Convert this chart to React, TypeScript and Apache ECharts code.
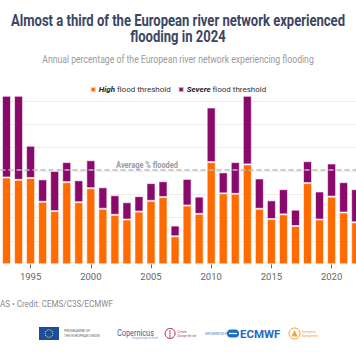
import React, { useEffect, useRef } from "react";
import * as echarts from "echarts";

const years = [
  "1993", "1994", "1995", "1996", "1997", "1998", "1999", "2000", "2001", "2002",
  "2003", "2004", "2005", "2006", "2007", "2008", "2009", "2010", "2011", "2012",
  "2013", "2014", "2015", "2016", "2017", "2018", "2019", "2020", "2021", "2022",
];
const highValues = [
  18.6, 18.1, 18.5, 13.4, 11.4, 17.6, 13.3, 16.3, 11.9, 10.6,
  9.6, 11.3, 13.6, 14.4, 6.0, 12.6, 10.8, 21.9, 15.2, 15.1,
  21.4, 11.9, 9.7, 10.7, 8.2, 17.4, 9.6, 14.5, 11.1, 9.0,
];
const severeValues = [
  17.6, 18.1, 6.9, 4.8, 8.6, 4.3, 4.7, 6.0, 4.6, 4.2,
  3.7, 3.3, 3.8, 3.4, 2.3, 5.7, 3.7, 11.7, 4.5, 6.8,
  14.8, 6.5, 4.0, 5.4, 3.5, 4.7, 6.0, 7.1, 6.5, 7.1,
];
const averageFlooded = 20.2;
const yMax = 36;
const yInterval = 5;

const ORANGE = "#ff6b00";
const PURPLE = "#8a0a6c";
const FONT = "Roboto, 'Noto Sans', sans-serif";

function fitScale(text: string, font: string, target: number): number {
  const ctx = document.createElement("canvas").getContext("2d");
  if (!ctx) return 1;
  ctx.font = font;
  const w = ctx.measureText(text).width;
  return w > 0 ? target / w : 1;
}

export default function App() {
  const ref = useRef<HTMLDivElement>(null);

  useEffect(() => {
    if (!ref.current) return;
    const chart = echarts.init(ref.current, null, { renderer: "svg" });

    const title1 = "Almost a third of the European river network experienced";
    const title2 = "flooding in 2024";
    const subtitle = "Annual percentage of the European river network experiencing flooding";
    const credit = "AS • Credit: CEMS/C3S/ECMWF";
    const avgLabel = "Average % flooded";

    const tScale = fitScale(title1, `bold 16px Roboto`, 334);
    const sScale = fitScale(subtitle, `10.5px Roboto`, 272);
    const cScale = fitScale(credit, `9.5px Roboto`, 113);
    const aScale = fitScale(avgLabel, `bold 9px Roboto`, 62);
    const copScale = fitScale("Copernicus", `9px Roboto`, 37);

    const stars = Array.from({ length: 12 }, (_, i) => {
      const a = (i / 12) * Math.PI * 2;
      return {
        type: "circle",
        shape: { cx: 49 + 3.8 * Math.cos(a), cy: 333.5 + 3.8 * Math.sin(a), r: 0.55 },
        style: { fill: "#ffdd00" },
      };
    });

    const tiny = (text: string, x: number, y: number, color: string, size = 3.2) => ({
      type: "text",
      x,
      y,
      style: { text, fill: color, fontSize: size, fontFamily: FONT, verticalAlign: "middle" },
    });

    chart.setOption({
      animation: false,
      backgroundColor: "#ffffff",
      legend: {
        top: 80.5,
        left: "center",
        icon: "rect",
        itemWidth: 5,
        itemHeight: 5,
        itemGap: 7,
        selectedMode: false,
        textStyle: {
          fontSize: 8,
          color: "#333",
          fontFamily: FONT,
          padding: [0, 0, 0, -2],
          rich: {
            b: {
              fontSize: 8,
              fontWeight: "bold",
              fontStyle: "italic",
              color: "#222",
              fontFamily: FONT,
            },
          },
        },
        formatter: (name: string) =>
          name.startsWith("High") ? "{b|High} flood threshold" : "{b|Severe} flood threshold",
        data: ["High flood threshold", "Severe flood threshold"],
      },
      grid: {
        left: 0.5,
        width: 361.2,
        top: 96.3,
        height: 168,
        containLabel: false,
        outerBoundsMode: "none",
      },
      xAxis: {
        type: "category",
        data: years,
        axisLine: { show: false },
        axisTick: {
          show: true,
          alignWithLabel: true,
          length: 4,
          interval: (_i: number, v: string) => +v % 5 === 0,
          lineStyle: { color: "#666", width: 1 },
        },
        axisLabel: {
          interval: (_i: number, v: string) => +v % 5 === 0,
          color: "#666",
          fontSize: 9.5,
          margin: 7,
          fontFamily: FONT,
        },
      },
      yAxis: {
        type: "value",
        min: 0,
        max: yMax,
        interval: yInterval,
        axisLabel: { show: false },
        axisLine: { show: false },
        axisTick: { show: false },
        splitLine: {
          show: true,
          showMinLine: false,
          showMaxLine: false,
          lineStyle: { color: "#ececec", width: 1 },
        },
      },
      series: [
        {
          name: "High flood threshold",
          type: "bar",
          stack: "flood",
          data: highValues,
          barWidth: 9,
          itemStyle: { color: ORANGE, borderColor: "rgba(255,255,255,0.6)", borderWidth: 1 },
        },
        {
          name: "Severe flood threshold",
          type: "bar",
          stack: "flood",
          data: severeValues,
          barWidth: 9,
          itemStyle: { color: PURPLE, borderColor: "rgba(255,255,255,0.6)", borderWidth: 1 },
          markLine: {
            silent: true,
            symbol: "none",
            z: 10,
            label: { show: false },
            lineStyle: { color: "#bcbcbc", type: [5, 3], width: 1.6 },
            data: [{ yAxis: averageFlooded }],
          },
        },
      ],
      graphic: [
        {
          type: "text",
          x: 178,
          y: 20.5,
          scaleX: tScale,
          style: {
            text: title1,
            fill: "#3a4664",
            fontSize: 16,
            fontWeight: "bold",
            fontFamily: FONT,
            align: "center",
            verticalAlign: "middle",
          },
        },
        {
          type: "text",
          x: 178,
          y: 36.5,
          scaleX: tScale,
          style: {
            text: title2,
            fill: "#3a4664",
            fontSize: 16,
            fontWeight: "bold",
            fontFamily: FONT,
            align: "center",
            verticalAlign: "middle",
          },
        },
        {
          type: "text",
          x: 178,
          y: 59,
          scaleX: sScale,
          style: {
            text: subtitle,
            fill: "#9a9a9a",
            fontSize: 10.5,
            fontFamily: FONT,
            align: "center",
            verticalAlign: "middle",
          },
        },
        {
          type: "text",
          x: 178,
          y: 165,
          scaleX: aScale,
          z: 20,
          style: {
            text: avgLabel,
            fill: "#9c9c9c",
            fontSize: 9,
            fontWeight: "bold",
            fontFamily: FONT,
            align: "right",
            verticalAlign: "middle",
          },
        },
        {
          type: "text",
          x: 0,
          y: 303.5,
          scaleX: cScale,
          style: {
            text: credit,
            fill: "#8a8a8a",
            fontSize: 9.5,
            fontFamily: FONT,
            align: "left",
            verticalAlign: "middle",
          },
        },
        // EU flag
        { type: "rect", shape: { x: 39, y: 327, width: 20, height: 13 }, style: { fill: "#1b4d9e" } },
        ...stars,
        tiny("PROGRAMME OF", 64, 331.2, "#666", 3.4),
        tiny("THE EUROPEAN UNION", 64, 335.6, "#666", 3.4),
        // Copernicus
        {
          type: "text",
          x: 117,
          y: 332.5,
          scaleX: copScale,
          style: {
            text: "Copernicus",
            fill: "#2f63a8",
            fontSize: 9,
            fontFamily: FONT,
            verticalAlign: "middle",
          },
        },
        tiny("Europe's eyes on Earth", 132, 339, "#7b9cc8", 2.6),
        // Climate change service
        {
          type: "arc",
          shape: { cx: 170, cy: 333.5, r: 5, startAngle: -Math.PI * 0.7, endAngle: Math.PI * 1.3 },
          style: { stroke: "#a52a45", lineWidth: 1, fill: "none" },
        },
        {
          type: "line",
          shape: { x1: 170, y1: 330, x2: 170, y2: 338 },
          style: { stroke: "#a52a45", lineWidth: 0.8 },
        },
        tiny("Climate", 177, 332, "#b04a60", 2.8),
        tiny("Change Service", 177, 335.5, "#b04a60", 2.8),
        // ECMWF
        tiny("IMPLEMENTED BY", 205, 333.5, "#3a7cc6", 2.8),
        {
          type: "rect",
          shape: { x: 227, y: 329.5, width: 12, height: 8, r: 4 },
          style: { fill: "#1f6cc0" },
        },
        {
          type: "line",
          shape: { x1: 229, y1: 333.5, x2: 237, y2: 333.5 },
          style: { stroke: "#ffffff", lineWidth: 1.2 },
        },
        {
          type: "text",
          x: 240,
          y: 333.8,
          style: {
            text: "ECMWF",
            fill: "#1f6cc0",
            fontSize: 11.5,
            fontWeight: "bold",
            fontFamily: FONT,
            verticalAlign: "middle",
          },
        },
        // Emergency management
        {
          type: "circle",
          shape: { cx: 294.5, cy: 333.5, r: 5.5 },
          style: { stroke: "#f5a23c", lineWidth: 1, fill: "none" },
        },
        {
          type: "polygon",
          shape: { points: [[294.5, 330], [291.5, 336.5], [297.5, 336.5]] },
          style: { fill: "#f5a23c" },
        },
        tiny("Emergency", 302, 332, "#f5a23c", 2.8),
        tiny("Management", 302, 335.5, "#f5a23c", 2.8),
      ],
    });

    return () => chart.dispose();
  }, []);

  return (
    <div
      ref={ref}
      style={{ position: "absolute", left: 0, top: 0, width: 356, height: 364, overflow: "hidden" }}
    />
  );
}
